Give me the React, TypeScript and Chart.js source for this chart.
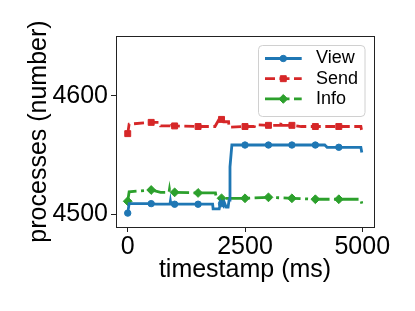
import React, { useEffect, useRef } from 'react';
import { Chart, registerables } from 'chart.js';

Chart.register(...registerables);

const seriesNames = ['View', 'Send', 'Info'];
const seriesColors = ['#1f77b4', '#d62728', '#2ca02c'];

const viewTimes = [0, 30, 500, 600, 900, 910, 920, 1000, 1500, 1810, 1820, 1950, 1980, 2000, 2040, 2060, 2100, 2140, 2160, 2180, 2220, 2500, 3000, 3500, 4000, 4200, 4250, 4500, 4970, 4990];
const viewValues = [4501, 4509, 4509, 4508.5, 4508.5, 4511, 4508.5, 4508.5, 4508.5, 4508.5, 4504.5, 4504.5, 4510.5, 4509, 4507, 4510, 4506, 4506, 4512, 4540, 4558.4, 4558.4, 4558.4, 4558.4, 4558.4, 4558.4, 4556.5, 4556.5, 4556.5, 4552];

const sendTimes = [0, 30, 500, 680, 700, 920, 930, 945, 1000, 1500, 1860, 1960, 2000, 2040, 2150, 2160, 2500, 2700, 2710, 3000, 3260, 3270, 3290, 3500, 3700, 4000, 4500, 4970, 4990];
const sendValues = [4568, 4576, 4577.5, 4577.5, 4574.5, 4574.5, 4577, 4574.5, 4574.5, 4574, 4574, 4581, 4580, 4578, 4578, 4573.5, 4574, 4574, 4575.5, 4575, 4575, 4578, 4575, 4575, 4574, 4574, 4574, 4574, 4570];

const infoTimes = [0, 30, 500, 700, 880, 890, 900, 1000, 1500, 1870, 1890, 2000, 2500, 3000, 3500, 4000, 4500, 4970, 4990];
const infoValues = [4511, 4519, 4520.5, 4518.5, 4518.5, 4521, 4518.5, 4518.5, 4518, 4518, 4513.5, 4513.5, 4513.5, 4514.3, 4513.5, 4512.7, 4512.7, 4512.7, 4509];

const markerTimes = [0, 500, 1000, 1500, 2000, 2500, 3000, 3500, 4000, 4500];

const xTickValues = [0, 2500, 5000];
const yTickValues = [4500, 4600];
const xRange = [-250, 5250];
const yRange = [4489.3, 4650.3];

const xTitle = 'timestamp (ms)';
const yTitle = 'processes (number)';

const FONT = "'Liberation Sans', Arial, sans-serif";
const DASHES: number[][] = [[], [10, 4.5], [17, 4.5, 3, 4.5]];
const STYLES = ['circle', 'rect', 'rectRot'];
const RADII = [3.2, 4.2, 4.4];

function toPoints(times: number[], values: number[]) {
  return times.map((t, i) => ({ x: t, y: values[i] }));
}

function drawMarker(ctx: CanvasRenderingContext2D, style: string, x: number, y: number, r: number) {
  ctx.beginPath();
  if (style === 'circle') {
    ctx.arc(x, y, r, 0, Math.PI * 2);
  } else if (style === 'rect') {
    const s = r * Math.SQRT1_2;
    ctx.rect(x - s, y - s, 2 * s, 2 * s);
  } else {
    ctx.moveTo(x - r, y);
    ctx.lineTo(x, y - r);
    ctx.lineTo(x + r, y);
    ctx.lineTo(x, y + r);
    ctx.closePath();
  }
  ctx.fill();
  ctx.stroke();
}

const framePlugin = {
  id: 'frameAndLegend',
  afterDatasetsDraw(chart: any) {
    const { ctx, chartArea } = chart;
    ctx.save();
    ctx.strokeStyle = '#222';
    ctx.lineWidth = 1;
    ctx.setLineDash([]);
    ctx.strokeRect(
      Math.round(chartArea.left) + 0.5,
      Math.round(chartArea.top) + 0.5,
      Math.round(chartArea.right - chartArea.left),
      Math.round(chartArea.bottom - chartArea.top)
    );
    ctx.restore();
  },
  afterDraw(chart: any) {
    const { ctx } = chart;
    ctx.save();
    const bx = 258.5, by = 45.5, bw = 106.5, bh = 71, rad = 4;
    ctx.beginPath();
    ctx.moveTo(bx + rad, by);
    ctx.lineTo(bx + bw - rad, by);
    ctx.arcTo(bx + bw, by, bx + bw, by + rad, rad);
    ctx.lineTo(bx + bw, by + bh - rad);
    ctx.arcTo(bx + bw, by + bh, bx + bw - rad, by + bh, rad);
    ctx.lineTo(bx + rad, by + bh);
    ctx.arcTo(bx, by + bh, bx, by + bh - rad, rad);
    ctx.lineTo(bx, by + rad);
    ctx.arcTo(bx, by, bx + rad, by, rad);
    ctx.closePath();
    ctx.fillStyle = 'rgba(255,255,255,0.8)';
    ctx.fill();
    ctx.strokeStyle = '#d0d0d0';
    ctx.lineWidth = 1;
    ctx.stroke();

    const rows = [58.5, 78.7, 98.9];
    seriesNames.forEach((name, i) => {
      const y = rows[i];
      ctx.strokeStyle = seriesColors[i];
      ctx.fillStyle = seriesColors[i];
      ctx.lineWidth = 2.8;
      ctx.setLineDash(DASHES[i]);
      ctx.beginPath();
      ctx.moveTo(265, y);
      ctx.lineTo(301.7, y);
      ctx.stroke();
      ctx.setLineDash([]);
      ctx.lineWidth = 1;
      drawMarker(ctx, STYLES[i], 283.3, y, RADII[i]);
      ctx.fillStyle = '#000';
      ctx.font = `18px ${FONT}`;
      ctx.textBaseline = 'middle';
      ctx.textAlign = 'left';
      ctx.fillText(name, 316, y);
    });
    ctx.restore();
  },
};

export default function App() {
  const canvasRef = useRef<HTMLCanvasElement | null>(null);

  useEffect(() => {
    const canvas = canvasRef.current;
    if (!canvas) return;
    const allTimes = [viewTimes, sendTimes, infoTimes];
    const allValues = [viewValues, sendValues, infoValues];
    const datasets = seriesNames.map((name, i) => ({
      label: name,
      data: toPoints(allTimes[i], allValues[i]),
      borderColor: seriesColors[i],
      backgroundColor: seriesColors[i],
      borderWidth: 2.8,
      borderDash: DASHES[i],
      pointStyle: STYLES[i],
      pointRadius: allTimes[i].map((t) => (markerTimes.includes(t) ? RADII[i] : 0)),
      pointBorderWidth: 1,
      pointBorderColor: seriesColors[i],
      pointBackgroundColor: seriesColors[i],
      tension: 0,
      fill: false,
    }));

    const chart = new Chart(canvas, {
      type: 'line',
      data: { datasets },
      options: {
        responsive: false,
        animation: false,
        events: [],
        layout: { padding: { left: 0, top: 36, right: 41, bottom: 0 } },
        plugins: { legend: { display: false }, tooltip: { enabled: false } },
        scales: {
          x: {
            type: 'linear',
            min: xRange[0],
            max: xRange[1],
            afterBuildTicks: (s: any) => {
              s.ticks = xTickValues.map((v) => ({ value: v }));
            },
            afterFit: (s: any) => {
              s.height = 84;
            },
            grid: { drawOnChartArea: false, drawTicks: true, tickLength: 5, tickColor: '#222', tickWidth: 1 },
            border: { display: false },
            ticks: {
              color: '#000',
              font: { family: FONT, size: 25 },
              padding: 0,
              maxRotation: 0,
              autoSkip: false,
              callback: (v: any) => String(v),
            },
            title: {
              display: true,
              text: xTitle,
              color: '#000',
              font: { family: FONT, size: 25 },
              padding: { top: 0, bottom: 26 },
            },
          },
          y: {
            type: 'linear',
            min: yRange[0],
            max: yRange[1],
            afterBuildTicks: (s: any) => {
              s.ticks = yTickValues.map((v) => ({ value: v }));
            },
            afterFit: (s: any) => {
              s.width = 116;
            },
            grid: { drawOnChartArea: false, drawTicks: true, tickLength: 5, tickColor: '#222', tickWidth: 1 },
            border: { display: false },
            ticks: {
              color: '#000',
              font: { family: FONT, size: 25 },
              padding: 3,
              callback: (v: any) => String(v),
            },
            title: {
              display: true,
              text: yTitle,
              color: '#000',
              font: { family: FONT, size: 25 },
              padding: { top: 24, bottom: 0 },
            },
          },
        },
      },
      plugins: [framePlugin],
    });
    return () => chart.destroy();
  }, []);

  return (
    <div style={{ position: 'fixed', left: 0, top: 0, width: 415, height: 311, background: '#fff' }}>
      <canvas ref={canvasRef} width={415} height={311} style={{ display: 'block', width: 415, height: 311 }} />
    </div>
  );
}
